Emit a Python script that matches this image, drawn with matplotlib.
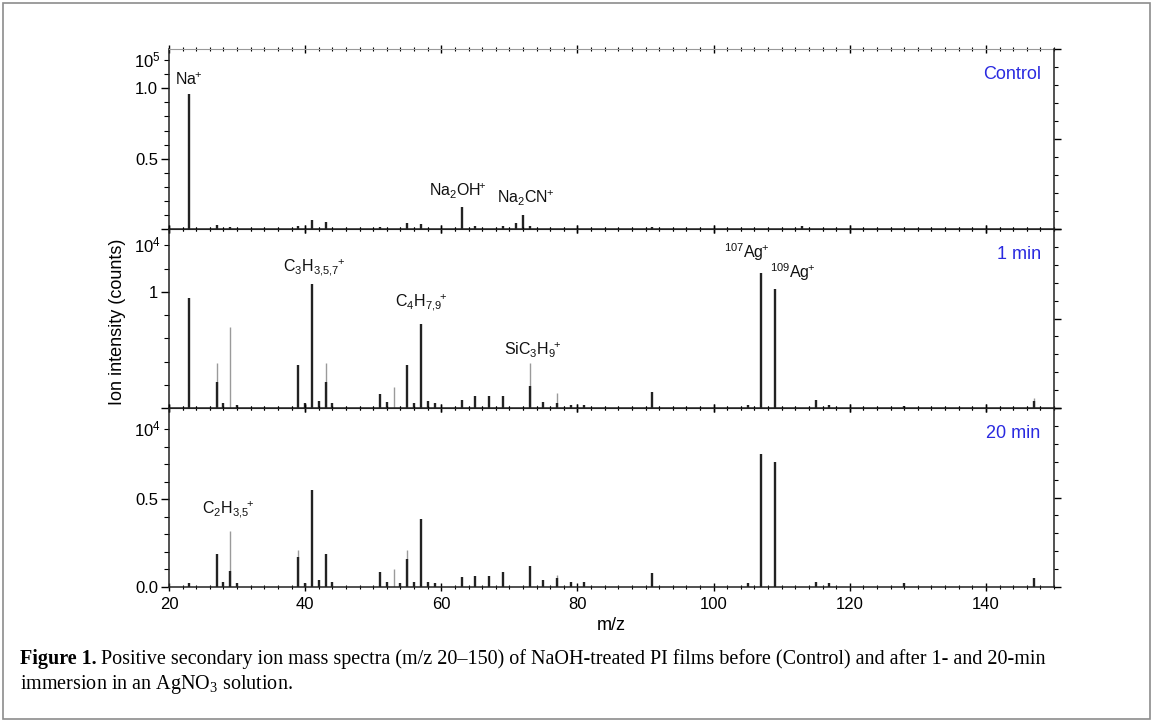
import numpy as np
import matplotlib
matplotlib.use("Agg")
import matplotlib.pyplot as plt
from matplotlib.patches import Rectangle
from matplotlib.ticker import MultipleLocator, FixedLocator, NullFormatter

plt.rcParams['font.family'] = ['Liberation Sans', 'DejaVu Sans']
plt.rcParams['mathtext.fontset'] = 'custom'
plt.rcParams['mathtext.rm'] = 'Liberation Sans'

# === Peak data (intensity in units of the panel multiplier) ===
# Control (x10^5)
ctrl_mz = [23, 27, 29, 39, 41, 43, 51, 55, 57, 63, 65, 69, 71, 72, 73, 91, 113]
ctrl_h = [0.96, 0.03, 0.015, 0.02, 0.064, 0.05, 0.015, 0.04, 0.035, 0.16, 0.02,
          0.02, 0.04, 0.10, 0.02, 0.015, 0.02]

# 1 min (x10^4): black peaks and lighter (gray) peaks
min1_mz = [23, 27, 28, 30, 39, 40, 41, 42, 43, 44, 51, 52, 55, 56, 57, 58, 59,
           63, 65, 67, 69, 73, 75, 77, 79, 81, 91, 105, 107, 109, 115, 117, 128, 147]
min1_h = [0.95, 0.22, 0.04, 0.03, 0.37, 0.04, 1.07, 0.06, 0.22, 0.04, 0.12, 0.05,
          0.37, 0.04, 0.72, 0.06, 0.04, 0.07, 0.10, 0.10, 0.10, 0.19, 0.05, 0.04,
          0.03, 0.03, 0.14, 0.03, 1.16, 1.02, 0.07, 0.03, 0.02, 0.06]
min1_gray_mz = [27, 29, 43, 53, 73, 77, 147]
min1_gray_h = [0.39, 0.70, 0.39, 0.18, 0.39, 0.13, 0.09]

# 20 min (x10^4)
min20_mz = [23, 27, 28, 29, 30, 39, 40, 41, 42, 43, 44, 51, 52, 54, 55, 56, 57, 58,
            59, 63, 65, 67, 69, 73, 75, 77, 79, 81, 91, 105, 107, 109, 115, 117, 128, 147]
min20_h = [0.02, 0.19, 0.03, 0.09, 0.02, 0.17, 0.02, 0.55, 0.04, 0.19, 0.03, 0.085,
           0.03, 0.02, 0.16, 0.03, 0.39, 0.03, 0.02, 0.055, 0.06, 0.06, 0.085, 0.12,
           0.04, 0.05, 0.03, 0.03, 0.08, 0.02, 0.76, 0.71, 0.03, 0.02, 0.02, 0.05]
min20_gray_mz = [29, 39, 53, 55, 77]
min20_gray_h = [0.32, 0.21, 0.10, 0.21, 0.07]

ctrl_labels = [(r'$\mathregular{Na^{\!\!+}}$', 22.9, 1.06),
               (r'$\mathregular{Na_2OH^{\!\!+}}$', 62.4, 0.27),
               (r'$\mathregular{Na_2CN^{\!\!+}}$', 72.4, 0.22)]
min1_labels = [(r'$\mathregular{C_3H_{3{,}5{,}7}{}^{\!\!+}}$', 41.3, 1.21),
               (r'$\mathregular{C_4H_{7{,}9}{}^{\!\!+}}$', 57.1, 0.91),
               (r'$\mathregular{SiC_3H_9{}^{\!\!+}}$', 73.4, 0.50),
               (r'$\mathregular{^{107}Ag^{\!\!+}}$', 104.9, 1.34),
               (r'$\mathregular{^{109}Ag^{\!\!+}}$', 111.6, 1.17)]
min20_labels = [(r'$\mathregular{C_2H_{3{,}5}{}^{\!\!+}}$', 28.7, 0.44)]

W, H = 1153, 722
fig = plt.figure(figsize=(W / 100, H / 100), dpi=100)

left = 169 / W
width = (1054 - 169) / W


def panel(top_px, bot_px):
    return fig.add_axes([left, 1 - bot_px / H, width, (bot_px - top_px) / H])


panels = [
    dict(ax=panel(49, 229), ylim=1.28, major=[0, 0.5, 1.0], lab=['', '0.5', '1.0'],
         mstep=0.1, mmax=1.2, mult=r'$\mathregular{10^5}$', mpos=1.2, name='Control',
         mz=ctrl_mz, h=ctrl_h, gmz=[], gh=[], labels=ctrl_labels, namey=0.86),
    dict(ax=panel(229, 408), ylim=1.54, major=[0, 1], lab=['', '1'],
         mstep=0.2, mmax=1.4, mult=r'$\mathregular{10^4}$', mpos=1.4, name='1 min',
         mz=min1_mz, h=min1_h, gmz=min1_gray_mz, gh=min1_gray_h, labels=min1_labels,
         namey=0.86),
    dict(ax=panel(408, 587), ylim=1.02, major=[0, 0.5], lab=['0.0', '0.5'],
         mstep=0.1, mmax=0.9, mult=r'$\mathregular{10^4}$', mpos=0.9, name='20 min',
         mz=min20_mz, h=min20_h, gmz=min20_gray_mz, gh=min20_gray_h, labels=min20_labels,
         namey=0.86),
]

for i, p in enumerate(panels):
    ax = p['ax']
    ax.vlines(p['gmz'], 0, p['gh'], color='#9a9a9a', lw=1.0, zorder=2)
    ax.vlines(p['mz'], 0, p['h'], color='#222222', lw=1.7, zorder=3)
    ax.set_xlim(20, 150)
    ax.set_ylim(0, p['ylim'])
    ax.yaxis.set_major_locator(FixedLocator(p['major']))
    ax.set_yticklabels(p['lab'])
    ax.yaxis.set_minor_locator(FixedLocator(np.arange(0, p['mmax'] + 1e-6, p['mstep'])))
    ax.xaxis.set_major_locator(MultipleLocator(20))
    ax.xaxis.set_minor_locator(MultipleLocator(2))
    ax.tick_params(axis='y', which='major', direction='out', length=6, width=1,
                   labelsize=12, pad=2, right=False)
    ax.tick_params(axis='y', which='minor', direction='out', length=3.5, width=0.8, right=False)
    ax.tick_params(axis='x', which='major', direction='inout', length=6, width=1,
                   top=True, labelsize=12, pad=4)
    ax.tick_params(axis='x', which='minor', direction='inout', length=3, width=0.8, top=True)
    if i < 2:
        ax.tick_params(axis='x', labelbottom=False)
    ax.spines['right'].set_visible(False)
    for s in ['left', 'bottom']:
        ax.spines[s].set_color('#222222')
        ax.spines[s].set_linewidth(1.1)
    ax.spines['top'].set_color('#999999' if i == 0 else '#222222')
    ax.patch.set_alpha(0)

    # right-side tick axis
    tw = ax.twinx()
    tw.set_ylim(0, 10)
    tw.yaxis.set_major_locator(FixedLocator([0, 5, 10]))
    tw.yaxis.set_minor_locator(MultipleLocator(1))
    tw.yaxis.set_major_formatter(NullFormatter())
    tw.tick_params(axis='y', which='major', direction='out', length=5, width=1)
    tw.tick_params(axis='y', which='minor', direction='out', length=3, width=0.8)
    for s in ['left', 'top', 'bottom']:
        tw.spines[s].set_visible(False)
    tw.spines['right'].set_color('#222222')
    tw.spines['right'].set_linewidth(1.1)

    ax.text(-0.009, p['mpos'], p['mult'], transform=ax.get_yaxis_transform(),
            ha='right', va='center', fontsize=12)
    for txt, x, y in p['labels']:
        ax.text(x, y, txt, ha='center', va='center', fontsize=11.5, color='#111111')
    ax.text(0.985, p['namey'], p['name'], transform=ax.transAxes, ha='right',
            va='center', fontsize=13, color='#2a2ae0')

panels[2]['ax'].set_xlabel('m/z', fontsize=13, labelpad=4)
fig.text(118 / W, 1 - 322 / H, 'Ion intensity (counts)', rotation=90,
         ha='center', va='center', fontsize=13)

# caption
serif = ['Liberation Serif', 'DejaVu Serif']
fig.canvas.draw()
bold = fig.text(20 / W, 1 - 659 / H, 'Figure 1.', family=serif, fontweight='bold',
                fontsize=14.5, ha='left', va='center')
bb = bold.get_window_extent(fig.canvas.get_renderer())
fig.text((bb.x1 + 4) / W, 1 - 659 / H,
         'Positive secondary ion mass spectra (m/z 20\u2013150) of NaOH-treated PI films '
         'before (Control) and after 1- and 20-min',
         family=serif, fontsize=14.5, ha='left', va='center')
fig.text(20 / W, 1 - 684 / H, r'immersion in an $\mathregular{AgNO_3}$ solution.',
         family=serif, fontsize=14.5, ha='left', va='center')

fig.patches.append(Rectangle((3 / W, 3 / H), 1 - 6 / W, 1 - 6 / H, transform=fig.transFigure,
                             fill=False, edgecolor='#8c8c8c', lw=1.2))

fig.savefig('out.png', dpi=100)
